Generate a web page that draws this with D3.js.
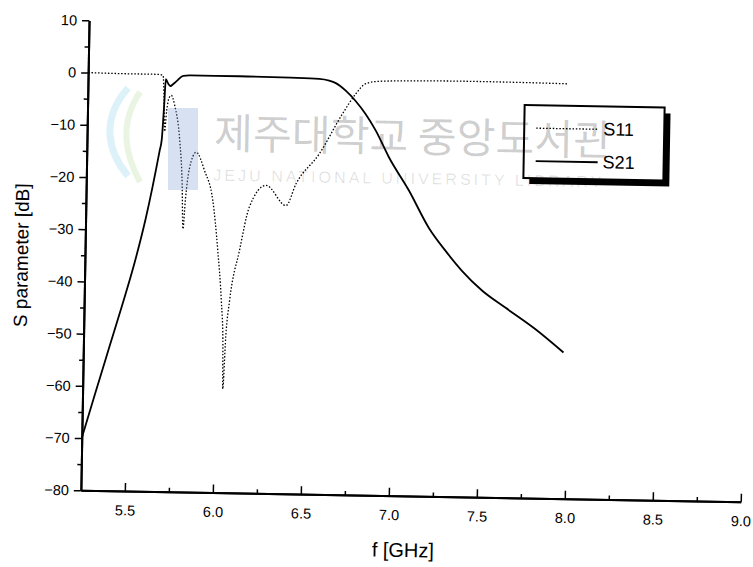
<!DOCTYPE html>
<html>
<head>
<meta charset="utf-8">
<script src="https://cdn.jsdelivr.net/npm/d3@7"></script>
<style>
  body { margin: 0; background: #fff; }
  text { font-family: "Liberation Sans", Arial, sans-serif; }
</style>
</head>
<body>
<div id="chart"></div>
<script>
// S11 (dotted) - frequency in GHz, value in dB
var s11Freq = [5.25, 5.50, 5.65, 5.676, 5.684, 5.690, 5.700, 5.712, 5.725, 5.745, 5.777, 5.795, 5.804, 5.815, 5.835, 5.872,
               5.921, 5.971, 6.004, 6.029, 6.042, 6.046, 6.058, 6.076, 6.127, 6.179, 6.272, 6.387, 6.442, 6.571, 6.698,
               6.772, 6.828, 6.903, 7.10, 7.394, 7.866, 7.98];
var s11dB   = [0, -0.1, -0.1, -0.3, -5, -11, -7, -4.6, -4.1, -6, -12.7, -21, -29.6, -24, -18, -14.9,
               -18.4, -24.1, -33.6, -43.2, -50.9, -60.1, -50, -43.2, -33.6, -25.2, -21.0, -24.8, -20.6, -14.8, -7.1,
               -3.2, -1.2, -0.7, -0.5, -0.4, -0.5, -0.55];

// S21 (solid)
var s21Freq = [5.25, 5.32, 5.40, 5.47, 5.53, 5.59, 5.664, 5.675, 5.685, 5.692, 5.705, 5.718, 5.735, 5.755, 5.79, 5.83, 6.11, 6.40,
               6.563, 6.62, 6.658, 6.715, 6.771, 6.83, 6.889, 6.967, 7.084, 7.201, 7.297, 7.393, 7.509, 7.643, 7.815, 7.978];
var s21dB   = [-70, -61.6, -52.2, -44, -36.6, -28, -14.7, -12.5, -6, -1.0, -1.8, -2.3, -1.9, -1.3, -0.3, -0.2, -0.2, -0.3,
               -0.45, -0.75, -1.2, -2.6, -4.5, -7, -10.1, -15.2, -21.5, -28.6, -32.9, -36.7, -40.4, -43.6, -47.6, -52.0];

var xTicks = [5.5, 6.0, 6.5, 7.0, 7.5, 8.0, 8.5, 9.0];
var xMinor = [5.75, 6.25, 6.75, 7.25, 7.75, 8.25, 8.75];
var yTicks = [10, 0, -10, -20, -30, -40, -50, -60, -70, -80];
var yMinor = [5, -5, -15, -25, -35, -45, -55, -65, -75];
var seriesNames = ["S11", "S21"];

function init() {
    var w = 753;
    var h = 567;

    var svg = d3.select("#chart")
                .append("svg")
                .attr("width", w)
                .attr("height", h);

    svg.append("rect")
        .attr("width", w)
        .attr("height", h)
        .attr("fill", "#fff");

    // the scanned figure sits slightly tilted
    var g = svg.append("g")
               .attr("transform", "rotate(1,410,256)");

    var xscale = d3.scaleLinear()
                   .domain([5.25, 9.0])
                   .range([85, 745]);

    var yscale = d3.scaleLinear()
                   .domain([-80, 10])
                   .range([496, 26]);

    // faint library logo behind the plot
    var logo = svg.append("g").attr("opacity", 0.3);
    logo.append("rect")
        .attr("x", 168).attr("y", 108)
        .attr("width", 30).attr("height", 82)
        .attr("fill", "#7f9fd6");
    logo.append("path")
        .attr("d", "M128,88 C100,120 108,152 128,176")
        .attr("fill", "none")
        .attr("stroke", "#8fd3ea")
        .attr("stroke-width", 7);
    logo.append("path")
        .attr("d", "M140,92 C118,125 126,156 140,182")
        .attr("fill", "none")
        .attr("stroke", "#b8dca0")
        .attr("stroke-width", 6);

    var xAxis = d3.axisBottom(xscale)
                  .tickValues(xTicks)
                  .tickFormat(d3.format(".1f"))
                  .tickSize(-8)
                  .tickSizeOuter(0)
                  .tickPadding(14);

    var xAxisMinor = d3.axisBottom(xscale)
                       .tickValues(xMinor)
                       .tickFormat("")
                       .tickSize(-4)
                       .tickSizeOuter(0);

    var yAxis = d3.axisLeft(yscale)
                  .tickValues(yTicks)
                  .tickFormat(d3.format("d"))
                  .tickSize(7)
                  .tickSizeOuter(0)
                  .tickPadding(5);

    var yAxisMinor = d3.axisLeft(yscale)
                       .tickValues(yMinor)
                       .tickFormat("")
                       .tickSize(4)
                       .tickSizeOuter(0);

    g.append("g")
        .attr("transform", "translate(0," + yscale(-80) + ")")
        .call(xAxis);
    g.append("g")
        .attr("transform", "translate(0," + yscale(-80) + ")")
        .call(xAxisMinor);

    g.append("g")
        .attr("transform", "translate(" + xscale(5.25) + ",0)")
        .call(yAxis);
    g.append("g")
        .attr("transform", "translate(" + xscale(5.25) + ",0)")
        .call(yAxisMinor);

    g.selectAll(".domain").attr("stroke", "#000").attr("stroke-width", 2);
    g.selectAll(".tick line").attr("stroke", "#000").attr("stroke-width", 1.5);
    g.selectAll(".tick text")
        .attr("fill", "#000")
        .style("font-family", "'Liberation Sans', Arial, sans-serif")
        .style("font-size", "14.5px");

    // axis titles
    g.append("text")
        .attr("x", 408)
        .attr("y", 557)
        .attr("text-anchor", "middle")
        .style("font-size", "20px")
        .text("f [GHz]");

    g.append("text")
        .attr("transform", "translate(28,262) rotate(-90)")
        .attr("text-anchor", "middle")
        .style("font-size", "19px")
        .text("S parameter [dB]");

    var line = d3.line()
                 .x(function(d) { return xscale(d[0]); })
                 .y(function(d) { return yscale(d[1]); })
                 .curve(d3.curveMonotoneX);

    var s11 = s11Freq.map(function(f, i) { return [f, s11dB[i]]; });
    var s21 = s21Freq.map(function(f, i) { return [f, s21dB[i]]; });

    g.append("path")
        .datum(s11)
        .attr("d", line)
        .attr("fill", "none")
        .attr("stroke", "#000")
        .attr("stroke-width", 1.3)
        .attr("stroke-dasharray", "1.5,1.8");

    g.append("path")
        .datum(s21)
        .attr("d", line)
        .attr("fill", "none")
        .attr("stroke", "#000")
        .attr("stroke-width", 1.8);

    // legend with drop shadow
    var lg = g.append("g").attr("transform", "translate(522,103)");
    lg.append("rect")
        .attr("x", 6).attr("y", 6)
        .attr("width", 140).attr("height", 73)
        .attr("fill", "#000");
    lg.append("rect")
        .attr("width", 140).attr("height", 73)
        .attr("fill", "#fff")
        .attr("stroke", "#000")
        .attr("stroke-width", 2);

    lg.selectAll("line.key")
        .data(seriesNames)
        .enter()
        .append("line")
        .attr("x1", 12).attr("x2", 74)
        .attr("y1", function(d, i) { return 23 + i * 33; })
        .attr("y2", function(d, i) { return 23 + i * 33; })
        .attr("stroke", "#000")
        .attr("stroke-width", function(d, i) { return i == 0 ? 1.3 : 1.8; })
        .attr("stroke-dasharray", function(d, i) { return i == 0 ? "1.5,1.8" : null; });

    lg.selectAll("text.key")
        .data(seriesNames)
        .enter()
        .append("text")
        .attr("x", 79)
        .attr("y", function(d, i) { return 29 + i * 33; })
        .style("font-size", "18px")
        .text(function(d) { return d; });

    // library watermark, stamped over the whole scan
    g.append("text")
        .attr("x", 212)
        .attr("y", 152)
        .attr("textLength", 398)
        .attr("lengthAdjust", "spacingAndGlyphs")
        .style("font-family", "'Noto Sans CJK KR', sans-serif")
        .style("font-size", "42px")
        .attr("fill", "#000")
        .attr("fill-opacity", 0.2)
        .text("제주대학교 중앙도서관");

    g.append("text")
        .attr("x", 212)
        .attr("y", 184)
        .attr("textLength", 388)
        .style("font-size", "16px")
        .attr("fill", "#000")
        .attr("fill-opacity", 0.12)
        .text("JEJU NATIONAL UNIVERSITY   LIBRARY");
}

window.onload = init;
</script>
</body>
</html>
